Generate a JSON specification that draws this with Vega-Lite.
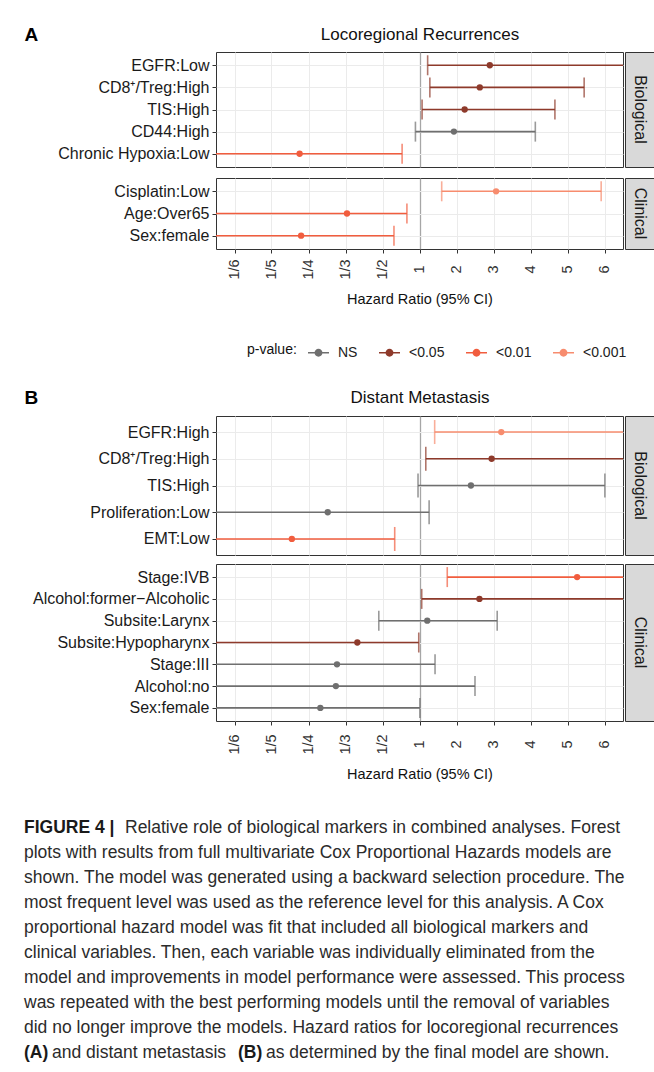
{
  "$schema": "https://vega.github.io/schema/vega-lite/v6.json",
  "padding": {"left": 23, "top": 24, "right": 2, "bottom": 2},
  "config": {
    "font": "Liberation Sans",
    "view": {"stroke": "#333333", "strokeWidth": 1},
    "axis": {"domain": false, "titleFontWeight": "normal", "titleColor": "#111111"}
  },
  "datasets": {
    "a_bio": [
      {"variable": "EGFR:Low", "p": "<0.05", "est": 1.9, "lo": 0.22, "hi": 6.5},
      {"variable": "CD8⁺/Treg:High", "p": "<0.05", "est": 1.63, "lo": 0.28, "hi": 4.45},
      {"variable": "TIS:High", "p": "<0.05", "est": 1.22, "lo": 0.07, "hi": 3.66},
      {"variable": "CD44:High", "p": "NS", "est": 0.93, "lo": -0.11, "hi": 3.13},
      {"variable": "Chronic Hypoxia:Low", "p": "<0.01", "est": -3.24, "lo": -6.5, "hi": -0.47}
    ],
    "a_clin": [
      {"variable": "Cisplatin:Low", "p": "<0.001", "est": 2.07, "lo": 0.6, "hi": 4.91},
      {"variable": "Age:Over65", "p": "<0.01", "est": -1.96, "lo": -6.5, "hi": -0.34},
      {"variable": "Sex:female", "p": "<0.01", "est": -3.2, "lo": -6.5, "hi": -0.69}
    ],
    "b_bio": [
      {"variable": "EGFR:High", "p": "<0.001", "est": 2.21, "lo": 0.41, "hi": 6.5},
      {"variable": "CD8⁺/Treg:High", "p": "<0.05", "est": 1.95, "lo": 0.17, "hi": 6.5},
      {"variable": "TIS:High", "p": "NS", "est": 1.39, "lo": -0.04, "hi": 5.01},
      {"variable": "Proliferation:Low", "p": "NS", "est": -2.48, "lo": -6.5, "hi": 0.26},
      {"variable": "EMT:Low", "p": "<0.01", "est": -3.45, "lo": -6.5, "hi": -0.67}
    ],
    "b_clin": [
      {"variable": "Stage:IVB", "p": "<0.01", "est": 4.26, "lo": 0.75, "hi": 6.5},
      {"variable": "Alcohol:former−Alcoholic", "p": "<0.05", "est": 1.62, "lo": 0.06, "hi": 6.5},
      {"variable": "Subsite:Larynx", "p": "NS", "est": 0.21, "lo": -1.1, "hi": 2.1},
      {"variable": "Subsite:Hypopharynx", "p": "<0.05", "est": -1.68, "lo": -6.5, "hi": -0.02},
      {"variable": "Stage:III", "p": "NS", "est": -2.23, "lo": -6.5, "hi": 0.42},
      {"variable": "Alcohol:no", "p": "NS", "est": -2.26, "lo": -6.5, "hi": 1.5},
      {"variable": "Sex:female", "p": "NS", "est": -2.68, "lo": -6.5, "hi": 0.01}
    ]
  },
  "spacing": 37,
  "vconcat": [
    {
      "spacing": 80,
      "vconcat": [
        {
          "spacing": 9,
          "vconcat": [
            {
              "spacing": 0,
              "hconcat": [
                {
                  "width": 407, "height": 115,
                  "data": {"name": "a_bio"},
                  "encoding": {
                    "y": {"field": "variable", "type": "nominal", "sort": null, "scale": {"type": "point", "padding": 0.6},
                      "axis": {"title": "A", "titleAngle": 0, "titleX": -192, "titleY": -18, "titleAlign": "left", "titleBaseline": "middle", "titleFontSize": 19, "titleFontWeight": "bold", "titleColor": "#000000", "labelFontSize": 16, "labelColor": "#1a1a1a", "labelPadding": 3, "tickSize": 4, "tickColor": "#333333", "grid": true, "gridColor": "#ebebeb", "gridWidth": 1}},
                    "color": {"field": "p", "type": "nominal", "scale": {"domain": ["NS", "<0.05", "<0.01", "<0.001"], "range": ["#6f6f6f", "#8e3a2b", "#f15d3e", "#f78c6e"]},
                      "legend": {"title": "p-value:", "orient": "none", "legendX": 31, "legendY": 289, "direction": "horizontal", "titleOrient": "left", "titleFontSize": 14, "titleFontWeight": "normal", "titleColor": "#111111", "titlePadding": 10, "titleBaseline": "middle", "labelFontSize": 14, "labelColor": "#222222", "labelOffset": 8, "columnPadding": 17, "symbolSize": 441, "symbolStrokeWidth": 1.6, "symbolType": "M-1,0H1M0.3,0A0.3,0.3,0,1,1,-0.3,0A0.3,0.3,0,1,1,0.3,0Z",
                        "encode": {"symbols": {"update": {"shape": {"value": "M-1,0H1M0.3,0A0.3,0.3,0,1,1,-0.3,0A0.3,0.3,0,1,1,0.3,0Z"}, "stroke": {"scale": "color", "field": "value"}, "fill": {"scale": "color", "field": "value"}, "strokeWidth": {"value": 1.6}, "opacity": {"value": 1}}}}}}
                  },
                  "layer": [
                    {"mark": {"type": "rule", "strokeWidth": 1.6, "clip": true},
                     "encoding": {"x": {"field": "lo", "type": "quantitative", "scale": {"domain": [-5.5, 5.5], "nice": false, "zero": false},
                        "axis": {"orient": "top", "title": "Locoregional Recurrences", "titleFontSize": 17, "titlePadding": 9, "labels": false, "ticks": false, "values": [-5, -4, -3, -2, -1, 0, 1, 2, 3, 4, 5], "grid": true,
                          "gridColor": {"condition": {"test": "datum.value === 0", "value": "#a6a6a6"}, "value": "#ebebeb"},
                          "gridWidth": {"condition": {"test": "datum.value === 0", "value": 1.3}, "value": 1}}},
                      "x2": {"field": "hi"}}},
                    {"mark": {"type": "tick", "orient": "vertical", "size": 20, "thickness": 1.6, "clip": true},
                     "encoding": {"x": {"field": "lo", "type": "quantitative"}}},
                    {"mark": {"type": "tick", "orient": "vertical", "size": 20, "thickness": 1.6, "clip": true},
                     "encoding": {"x": {"field": "hi", "type": "quantitative"}}},
                    {"mark": {"type": "point", "filled": true, "size": 40, "opacity": 1},
                     "encoding": {"x": {"field": "est", "type": "quantitative"}}}
                  ]
                },
                {
                  "width": 30, "height": 115,
                  "view": {"fill": "#d9d9d9", "stroke": "#333333"},
                  "data": {"values": [{"strip": "Biological"}]},
                  "mark": {"type": "text", "angle": 90, "fontSize": 16, "color": "#1a1a1a", "align": "center", "baseline": "middle"},
                  "encoding": {"text": {"field": "strip"}}
                }
              ]
            },
            {
              "spacing": 0,
              "hconcat": [
                {
                  "width": 407, "height": 71,
                  "data": {"name": "a_clin"},
                  "encoding": {
                    "y": {"field": "variable", "type": "nominal", "sort": null, "scale": {"type": "point", "padding": 0.6},
                      "axis": {"title": null, "labelFontSize": 16, "labelColor": "#1a1a1a", "labelPadding": 3, "tickSize": 4, "tickColor": "#333333", "grid": true, "gridColor": "#ebebeb", "gridWidth": 1}},
                    "color": {"field": "p", "type": "nominal", "scale": {"domain": ["NS", "<0.05", "<0.01", "<0.001"], "range": ["#6f6f6f", "#8e3a2b", "#f15d3e", "#f78c6e"]},
                      "legend": {"title": "p-value:", "orient": "none", "legendX": 31, "legendY": 289, "direction": "horizontal", "titleOrient": "left", "titleFontSize": 14, "titleFontWeight": "normal", "titleColor": "#111111", "titlePadding": 10, "titleBaseline": "middle", "labelFontSize": 14, "labelColor": "#222222", "labelOffset": 8, "columnPadding": 17, "symbolSize": 441, "symbolStrokeWidth": 1.6, "symbolType": "M-1,0H1M0.3,0A0.3,0.3,0,1,1,-0.3,0A0.3,0.3,0,1,1,0.3,0Z",
                        "encode": {"symbols": {"update": {"shape": {"value": "M-1,0H1M0.3,0A0.3,0.3,0,1,1,-0.3,0A0.3,0.3,0,1,1,0.3,0Z"}, "stroke": {"scale": "color", "field": "value"}, "fill": {"scale": "color", "field": "value"}, "strokeWidth": {"value": 1.6}, "opacity": {"value": 1}}}}}}
                  },
                  "layer": [
                    {"mark": {"type": "rule", "strokeWidth": 1.6, "clip": true},
                     "encoding": {"x": {"field": "lo", "type": "quantitative", "scale": {"domain": [-5.5, 5.5], "nice": false, "zero": false},
                        "axis": {"orient": "bottom", "title": "Hazard Ratio (95% CI)", "titleFontSize": 14.5, "titlePadding": 13, "labelFontSize": 14.5, "labelColor": "#333333", "labelAngle": 270, "labelAlign": "center", "labelBaseline": "middle", "labelPadding": 16, "tickSize": 4, "tickColor": "#333333",
                          "values": [-5, -4, -3, -2, -1, 0, 1, 2, 3, 4, 5],
                          "labelExpr": "datum.value < 0 ? '1/' + (1 - datum.value) : '' + (datum.value + 1)",
                          "grid": true,
                          "gridColor": {"condition": {"test": "datum.value === 0", "value": "#a6a6a6"}, "value": "#ebebeb"},
                          "gridWidth": {"condition": {"test": "datum.value === 0", "value": 1.3}, "value": 1}}},
                      "x2": {"field": "hi"}}},
                    {"mark": {"type": "tick", "orient": "vertical", "size": 20, "thickness": 1.6, "clip": true},
                     "encoding": {"x": {"field": "lo", "type": "quantitative"}}},
                    {"mark": {"type": "tick", "orient": "vertical", "size": 20, "thickness": 1.6, "clip": true},
                     "encoding": {"x": {"field": "hi", "type": "quantitative"}}},
                    {"mark": {"type": "point", "filled": true, "size": 40, "opacity": 1},
                     "encoding": {"x": {"field": "est", "type": "quantitative"}}}
                  ]
                },
                {
                  "width": 30, "height": 71,
                  "view": {"fill": "#d9d9d9", "stroke": "#333333"},
                  "data": {"values": [{"strip": "Clinical"}]},
                  "mark": {"type": "text", "angle": 90, "fontSize": 16, "color": "#1a1a1a", "align": "center", "baseline": "middle"},
                  "encoding": {"text": {"field": "strip"}}
                }
              ]
            }
          ]
        },
        {
          "spacing": 7,
          "vconcat": [
            {
              "spacing": 0,
              "hconcat": [
                {
                  "width": 407, "height": 139,
                  "data": {"name": "b_bio"},
                  "encoding": {
                    "y": {"field": "variable", "type": "nominal", "sort": null, "scale": {"type": "point", "padding": 0.6},
                      "axis": {"title": "B", "titleAngle": 0, "titleX": -192, "titleY": -19, "titleAlign": "left", "titleBaseline": "middle", "titleFontSize": 19, "titleFontWeight": "bold", "titleColor": "#000000", "labelFontSize": 16, "labelColor": "#1a1a1a", "labelPadding": 3, "tickSize": 4, "tickColor": "#333333", "grid": true, "gridColor": "#ebebeb", "gridWidth": 1}},
                    "color": {"field": "p", "type": "nominal", "scale": {"domain": ["NS", "<0.05", "<0.01", "<0.001"], "range": ["#6f6f6f", "#8e3a2b", "#f15d3e", "#f78c6e"]},
                      "legend": {"title": "p-value:", "orient": "none", "legendX": 31, "legendY": 289, "direction": "horizontal", "titleOrient": "left", "titleFontSize": 14, "titleFontWeight": "normal", "titleColor": "#111111", "titlePadding": 10, "titleBaseline": "middle", "labelFontSize": 14, "labelColor": "#222222", "labelOffset": 8, "columnPadding": 17, "symbolSize": 441, "symbolStrokeWidth": 1.6, "symbolType": "M-1,0H1M0.3,0A0.3,0.3,0,1,1,-0.3,0A0.3,0.3,0,1,1,0.3,0Z",
                        "encode": {"symbols": {"update": {"shape": {"value": "M-1,0H1M0.3,0A0.3,0.3,0,1,1,-0.3,0A0.3,0.3,0,1,1,0.3,0Z"}, "stroke": {"scale": "color", "field": "value"}, "fill": {"scale": "color", "field": "value"}, "strokeWidth": {"value": 1.6}, "opacity": {"value": 1}}}}}}
                  },
                  "layer": [
                    {"mark": {"type": "rule", "strokeWidth": 1.6, "clip": true},
                     "encoding": {"x": {"field": "lo", "type": "quantitative", "scale": {"domain": [-5.5, 5.5], "nice": false, "zero": false},
                        "axis": {"orient": "top", "title": "Distant Metastasis", "titleFontSize": 17, "titlePadding": 10, "labels": false, "ticks": false, "values": [-5, -4, -3, -2, -1, 0, 1, 2, 3, 4, 5], "grid": true,
                          "gridColor": {"condition": {"test": "datum.value === 0", "value": "#a6a6a6"}, "value": "#ebebeb"},
                          "gridWidth": {"condition": {"test": "datum.value === 0", "value": 1.3}, "value": 1}}},
                      "x2": {"field": "hi"}}},
                    {"mark": {"type": "tick", "orient": "vertical", "size": 24, "thickness": 1.6, "clip": true},
                     "encoding": {"x": {"field": "lo", "type": "quantitative"}}},
                    {"mark": {"type": "tick", "orient": "vertical", "size": 24, "thickness": 1.6, "clip": true},
                     "encoding": {"x": {"field": "hi", "type": "quantitative"}}},
                    {"mark": {"type": "point", "filled": true, "size": 40, "opacity": 1},
                     "encoding": {"x": {"field": "est", "type": "quantitative"}}}
                  ]
                },
                {
                  "width": 30, "height": 139,
                  "view": {"fill": "#d9d9d9", "stroke": "#333333"},
                  "data": {"values": [{"strip": "Biological"}]},
                  "mark": {"type": "text", "angle": 90, "fontSize": 16, "color": "#1a1a1a", "align": "center", "baseline": "middle"},
                  "encoding": {"text": {"field": "strip"}}
                }
              ]
            },
            {
              "spacing": 0,
              "hconcat": [
                {
                  "width": 407, "height": 157,
                  "data": {"name": "b_clin"},
                  "encoding": {
                    "y": {"field": "variable", "type": "nominal", "sort": null, "scale": {"type": "point", "padding": 0.6},
                      "axis": {"title": null, "labelFontSize": 16, "labelColor": "#1a1a1a", "labelPadding": 3, "tickSize": 4, "tickColor": "#333333", "grid": true, "gridColor": "#ebebeb", "gridWidth": 1}},
                    "color": {"field": "p", "type": "nominal", "scale": {"domain": ["NS", "<0.05", "<0.01", "<0.001"], "range": ["#6f6f6f", "#8e3a2b", "#f15d3e", "#f78c6e"]},
                      "legend": {"title": "p-value:", "orient": "none", "legendX": 31, "legendY": 289, "direction": "horizontal", "titleOrient": "left", "titleFontSize": 14, "titleFontWeight": "normal", "titleColor": "#111111", "titlePadding": 10, "titleBaseline": "middle", "labelFontSize": 14, "labelColor": "#222222", "labelOffset": 8, "columnPadding": 17, "symbolSize": 441, "symbolStrokeWidth": 1.6, "symbolType": "M-1,0H1M0.3,0A0.3,0.3,0,1,1,-0.3,0A0.3,0.3,0,1,1,0.3,0Z",
                        "encode": {"symbols": {"update": {"shape": {"value": "M-1,0H1M0.3,0A0.3,0.3,0,1,1,-0.3,0A0.3,0.3,0,1,1,0.3,0Z"}, "stroke": {"scale": "color", "field": "value"}, "fill": {"scale": "color", "field": "value"}, "strokeWidth": {"value": 1.6}, "opacity": {"value": 1}}}}}}
                  },
                  "layer": [
                    {"mark": {"type": "rule", "strokeWidth": 1.6, "clip": true},
                     "encoding": {"x": {"field": "lo", "type": "quantitative", "scale": {"domain": [-5.5, 5.5], "nice": false, "zero": false},
                        "axis": {"orient": "bottom", "title": "Hazard Ratio (95% CI)", "titleFontSize": 14.5, "titlePadding": 13, "labelFontSize": 14.5, "labelColor": "#333333", "labelAngle": 270, "labelAlign": "center", "labelBaseline": "middle", "labelPadding": 19, "tickSize": 4, "tickColor": "#333333",
                          "values": [-5, -4, -3, -2, -1, 0, 1, 2, 3, 4, 5],
                          "labelExpr": "datum.value < 0 ? '1/' + (1 - datum.value) : '' + (datum.value + 1)",
                          "grid": true,
                          "gridColor": {"condition": {"test": "datum.value === 0", "value": "#a6a6a6"}, "value": "#ebebeb"},
                          "gridWidth": {"condition": {"test": "datum.value === 0", "value": 1.3}, "value": 1}}},
                      "x2": {"field": "hi"}}},
                    {"mark": {"type": "tick", "orient": "vertical", "size": 20, "thickness": 1.6, "clip": true},
                     "encoding": {"x": {"field": "lo", "type": "quantitative"}}},
                    {"mark": {"type": "tick", "orient": "vertical", "size": 20, "thickness": 1.6, "clip": true},
                     "encoding": {"x": {"field": "hi", "type": "quantitative"}}},
                    {"mark": {"type": "point", "filled": true, "size": 40, "opacity": 1},
                     "encoding": {"x": {"field": "est", "type": "quantitative"}}}
                  ]
                },
                {
                  "width": 30, "height": 157,
                  "view": {"fill": "#d9d9d9", "stroke": "#333333"},
                  "data": {"values": [{"strip": "Clinical"}]},
                  "mark": {"type": "text", "angle": 90, "fontSize": 16, "color": "#1a1a1a", "align": "center", "baseline": "middle"},
                  "encoding": {"text": {"field": "strip"}}
                }
              ]
            }
          ]
        }
      ]
    },
    {
      "width": 407, "height": 225,
      "view": {"stroke": null},
      "encoding": {
        "y": {"field": "line", "type": "ordinal", "scale": {"type": "point", "padding": 0, "domain": [1, 2, 3, 4, 5, 6, 7, 8, 9, 10]}, "axis": null},
        "x": {"value": 0},
        "text": {"field": "text"}
      },
      "layer": [
        {"data": {"values": [
          {"line": 2, "text": "plots with results from full multivariate Cox Proportional Hazards models are"},
          {"line": 3, "text": "shown. The model was generated using a backward selection procedure. The"},
          {"line": 4, "text": "most frequent level was used as the reference level for this analysis. A Cox"},
          {"line": 5, "text": "proportional hazard model was fit that included all biological markers and"},
          {"line": 6, "text": "clinical variables. Then, each variable was individually eliminated from the"},
          {"line": 7, "text": "model and improvements in model performance were assessed. This process"},
          {"line": 8, "text": "was repeated with the best performing models until the removal of variables"},
          {"line": 9, "text": "did no longer improve the models. Hazard ratios for locoregional recurrences"}
         ]},
         "mark": {"type": "text", "align": "left", "baseline": "middle", "fontSize": 17.5, "color": "#2b2b2b", "dx": -192}},
        {"data": {"values": [{"line": 1, "text": "FIGURE 4 |"}]},
         "mark": {"type": "text", "align": "left", "baseline": "middle", "fontSize": 17.5, "fontWeight": "bold", "color": "#1a1a1a", "dx": -192}},
        {"data": {"values": [{"line": 1, "text": "Relative role of biological markers in combined analyses. Forest"}]},
         "mark": {"type": "text", "align": "left", "baseline": "middle", "fontSize": 17.5, "color": "#2b2b2b", "dx": -91}},
        {"data": {"values": [{"line": 10, "text": "(A)"}]},
         "mark": {"type": "text", "align": "left", "baseline": "middle", "fontSize": 17.5, "fontWeight": "bold", "color": "#1a1a1a", "dx": -192}},
        {"data": {"values": [{"line": 10, "text": "and distant metastasis"}]},
         "mark": {"type": "text", "align": "left", "baseline": "middle", "fontSize": 17.5, "color": "#2b2b2b", "dx": -164}},
        {"data": {"values": [{"line": 10, "text": "(B)"}]},
         "mark": {"type": "text", "align": "left", "baseline": "middle", "fontSize": 17.5, "fontWeight": "bold", "color": "#1a1a1a", "dx": 22}},
        {"data": {"values": [{"line": 10, "text": "as determined by the final model are shown."}]},
         "mark": {"type": "text", "align": "left", "baseline": "middle", "fontSize": 17.5, "color": "#2b2b2b", "dx": 50}}
      ]
    }
  ]
}
